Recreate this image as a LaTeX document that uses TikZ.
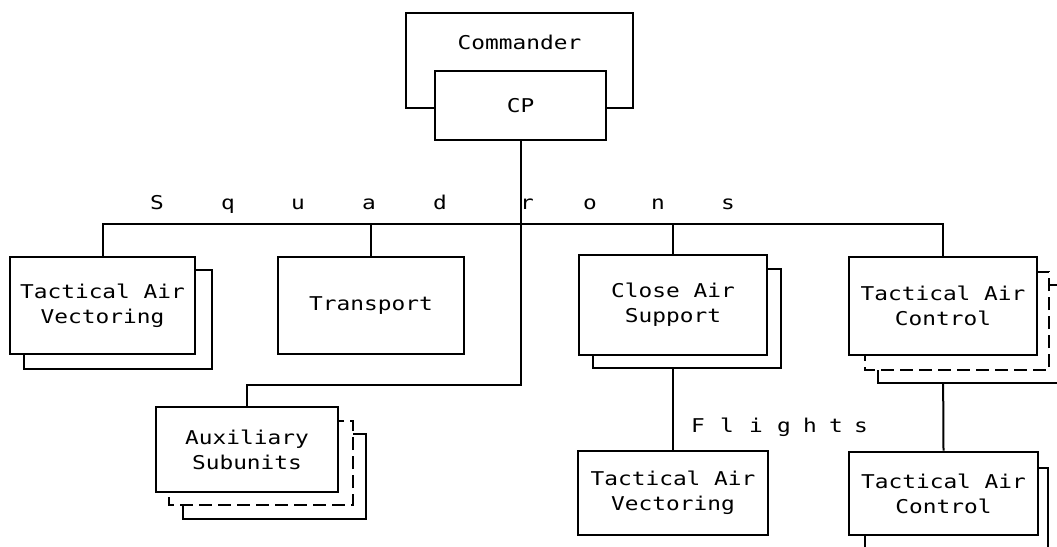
\documentclass[tikz,border=0pt]{standalone}
\usepackage{fontspec}
\newfontfamily\typer[FakeStretch=1.2]{DejaVu Sans Mono}
\usetikzlibrary{positioning}
\usetikzlibrary{backgrounds}

\begin{document}
\begin{tikzpicture}[x=1pt,y=-1pt,
        tag/.style={font=\typer\fontsize{19}{25}\selectfont, inner sep=0pt},
        unit/.style={tag, draw, line width=2.8pt, fill=white, align=center},
        link/.style={line width=2pt},
        copybox/.style={draw, line width=2.2pt, fill=white},
        dashbox/.style={copybox, dash pattern=on 13pt off 6pt}]
        \useasboundingbox (0,0) rectangle (1057,546);

        % Command post
        \node[unit, minimum width=227pt, minimum height=95pt] (cmdr) at (519.5,60.5) {};
        \node[tag] (cmdrtext) at ([yshift=-31pt]cmdr.north) {Commander};
        \node[unit, minimum width=171pt, minimum height=69pt] (cp) at (520.5,105.5) {CP};

        % Squadrons
        \draw[copybox] (24,270) rectangle (212,369); % second copy
        \node[unit, minimum width=185pt, minimum height=97pt] (tav) at (102.5,305.5) {Tactical Air\\Vectoring};
        \node[unit, minimum width=186pt, minimum height=97pt] (trans) at (371,305.5) {Transport};
        \draw[copybox] (593,269) rectangle (781,368);
        \node[unit, minimum width=188pt, minimum height=100pt] (cas) at (673,305) {Close Air\\Support};
        \draw[copybox] (878,285) rectangle (1075,383); % third copy
        \draw[dashbox] (865,272) rectangle (1049,370);
        \node[unit, minimum width=188pt, minimum height=98pt] (tac) at (943,306) {Tactical Air\\Control};

        % Auxiliary subunits
        \draw[copybox] (183,434) rectangle (366,519);
        \draw[dashbox] (169,421) rectangle (353,505);
        \node[unit, minimum width=182pt, minimum height=85pt] (aux) at (247,449.5) {Auxiliary\\Subunits};

        % Flights
        \node[unit, minimum width=190pt, minimum height=84pt] (ftav) at (673,493) {Tactical Air\\Vectoring};
        \draw[copybox] (865,468) rectangle (1048,580);
        \node[unit, minimum width=189pt, minimum height=83pt] (ftac) at (943.5,493.5) {Tactical Air\\Control};

        % Connectors
        \coordinate (bus) at (0,224);
        \coordinate (elbow) at (0,385);
        \begin{scope}[on background layer]
            \draw[link] (tav.north) -- (tav.north |- bus) -- (tac.north |- bus) -- (tac.north);
            \draw[link] (trans.north) -- (trans.north |- bus);
            \draw[link] (cas.north) -- (cas.north |- bus);
            \draw[link] (cp.south) -- (cp.south |- elbow) -| (aux.north);
            \draw[link] (cas.south) -- (ftav.north);
            \draw[link] (tac.south) -- (ftac.north);
        \end{scope}

        % Labels
        \foreach \ch/\x [count=\i] in {S/157,q/228,u/298,a/369,d/440,r/527,o/590,n/658,s/728}
            \node[tag, anchor=base] (squad\i) at (\x,209) {\ch};
        \foreach \ch/\x [count=\i] in {F/698,l/727,i/756,g/784,h/810,t/836,s/861}
            \node[tag, anchor=base] (flight\i) at (\x,432) {\ch};
\end{tikzpicture}
\end{document}
